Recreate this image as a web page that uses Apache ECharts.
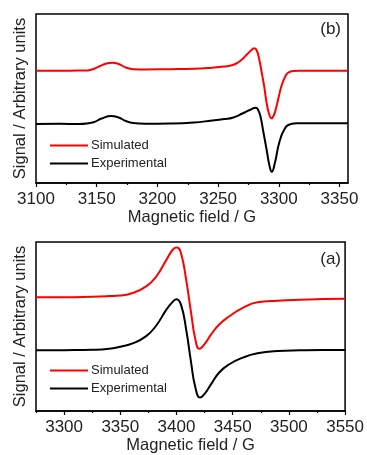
<!DOCTYPE html>
<html>
<head>
<meta charset="utf-8">
<script src="https://cdn.jsdelivr.net/npm/echarts@6/dist/echarts.min.js"></script>
<style>
html,body{margin:0;padding:0;background:#fff;}
#c{width:367px;height:455px;}
</style>
</head>
<body>
<div id="c"></div>
<script>
// Panel (b)
var fieldSimB = [3100,3120,3135,3140,3146,3152,3158,3163,3168,3174,3180,3190,3210,3230,3245,3255,3262,3267,3271,3276,3280,3282,3284,3286,3288,3290,3292,3294,3296,3298,3300,3302,3304,3306,3308,3311.6,3317,3357];
var valSimB   = [112.3,112.3,112.4,112.4,113.5,116.5,119.5,120.3,119,115.5,113.8,113.5,113.8,114.2,115.3,116.5,118,121,125,131.3,134.7,132,123,110,96.3,80,69,64.7,68,76.3,86.5,96.3,103,108,110.5,112,112.3,112.3];
var fieldExpB = [3100,3120,3135,3142,3148,3154,3162,3168,3174,3180,3190,3210,3230,3245,3255,3262,3270,3276,3281,3283,3285,3287,3290,3292.5,3294.2,3296.7,3299.5,3301.5,3303.6,3307.7,3314.5,3357];
var valExpB   = [59,59.2,59,59.5,61,64.5,67,65.5,62,60,59.3,59.5,60.5,62.5,64,65.3,69.5,73,75.3,73,66,53,33,16.3,11.3,19.7,36.3,45,51.3,58,59.7,59.7];
var ticksB = [3100,3150,3200,3250,3300,3350];
var minorTicksB = [3125,3175,3225,3275,3325];

// Panel (a)
var fieldSimA = [3275,3300,3325,3340,3350,3361,3373,3382,3391,3397,3400.3,3404,3408.6,3413,3416.8,3420.4,3424.8,3430.8,3438,3447,3459,3472,3490,3510,3530,3550];
var valSimA   = [114.3,114.4,115,115.6,116.2,118.7,125.3,135.3,152,162.7,164.5,158.7,132,98.7,72,62.5,67,77,87,95.3,103.7,109.3,111,112,112.6,113];
var fieldExpA = [3275,3300,3325,3340,3350,3361,3373,3382,3391,3397,3400,3404,3408.6,3413,3416.8,3421,3424.8,3430.8,3438,3447,3459,3472,3490,3510,3530,3550];
var valExpA   = [61,61.2,61.5,62.5,64.7,68,75.3,86,102,110.3,112.5,107,82,48.7,23.7,13.5,17,27,38.7,47,53.7,58,60.3,61,61.3,61.3];
var ticksA = [3300,3350,3400,3450,3500,3550];
var minorTicksA = [3275,3325,3375,3425,3475,3525];

var seriesNames = ['Simulated','Experimental'];
var xName = 'Magnetic field / G';
var yName = 'Signal / Arbitrary units';

function pairs(xs, ys){ return xs.map(function(x,i){ return [x, ys[i]]; }); }

var FONT = 'Liberation Sans, Arial, sans-serif';
var RED = '#ff0000', BLK = '#000000';

function mainX(gi, min, max, ticks){
  return {
    type:'value', gridIndex:gi, min:min, max:max, position:'bottom',
    name:xName, nameLocation:'middle', nameGap:26,
    nameTextStyle:{fontFamily:FONT, fontSize:16.5, color:'#222'},
    axisLine:{show:true, lineStyle:{color:'#000', width:1.5}},
    axisTick:{show:true, inside:false, length:4, lineStyle:{color:'#000', width:1.2}, customValues:ticks},
    axisLabel:{show:true, margin:8, fontFamily:FONT, fontSize:17, color:'#222', customValues:ticks,
               formatter:function(v){ return String(Math.round(v)); }},
    splitLine:{show:false}
  };
}
function minorX(gi, min, max, ticks){
  return {
    type:'value', gridIndex:gi, min:min, max:max, position:'bottom', offset:0,
    axisLine:{show:false},
    axisTick:{show:true, inside:false, length:2, lineStyle:{color:'#000', width:1.2}, customValues:ticks},
    axisLabel:{show:false},
    splitLine:{show:false}
  };
}
function yAx(gi, max){
  return {
    type:'value', gridIndex:gi, min:0, max:max,
    name:yName, nameLocation:'middle', nameGap:7, nameRotate:90,
    nameTextStyle:{fontFamily:FONT, fontSize:16.5, color:'#222'},
    axisLine:{show:false}, axisTick:{show:false}, axisLabel:{show:false}, splitLine:{show:false}
  };
}
function line(name, xi, yi, data, color){
  return {
    type:'line', name:name, xAxisIndex:xi, yAxisIndex:yi, data:data,
    showSymbol:false, symbol:'none', smooth:0.5,
    lineStyle:{color:color, width:2}, itemStyle:{color:color}, z:3, animation:false
  };
}

var chart = echarts.init(document.getElementById('c'), null, {renderer:'canvas'});
chart.setOption({
  animation:false,
  backgroundColor:'#fff',
  title:[
    {text:'(b)', right:26, top:21, padding:0, textStyle:{fontFamily:FONT, fontSize:17, fontWeight:'normal', color:'#222'}},
    {text:'(a)', right:26, top:251, padding:0, textStyle:{fontFamily:FONT, fontSize:17, fontWeight:'normal', color:'#222'}}
  ],
  grid:[
    {left:36, right:19, top:14, height:169, show:true, borderColor:'#000', borderWidth:1.5, backgroundColor:'transparent', containLabel:false},
    {left:36, right:19, top:242, height:170, show:true, borderColor:'#000', borderWidth:1.5, backgroundColor:'transparent', containLabel:false}
  ],
  legend:[
    {data:seriesNames, orient:'vertical', left:50, top:139, itemWidth:38, itemHeight:2, itemGap:5, icon:'rect',
     textStyle:{fontFamily:FONT, fontSize:13, color:'#222', padding:[0,0,0,-2]}, padding:0, selectedMode:false},
    {data:seriesNames, orient:'vertical', left:50, top:364, itemWidth:38, itemHeight:2, itemGap:5, icon:'rect',
     textStyle:{fontFamily:FONT, fontSize:13, color:'#222', padding:[0,0,0,-2]}, padding:0, selectedMode:false}
  ],
  xAxis:[
    mainX(0, 3100, 3357, ticksB),
    minorX(0, 3100, 3357, minorTicksB),
    mainX(1, 3275, 3550, ticksA),
    minorX(1, 3275, 3550, minorTicksA)
  ],
  yAxis:[ yAx(0, 169), yAx(1, 170) ],
  series:[
    line(seriesNames[0], 0, 0, pairs(fieldSimB, valSimB), RED),
    line(seriesNames[1], 0, 0, pairs(fieldExpB, valExpB), BLK),
    line(seriesNames[0], 2, 1, pairs(fieldSimA, valSimA), RED),
    line(seriesNames[1], 2, 1, pairs(fieldExpA, valExpA), BLK)
  ]
});
</script>
</body>
</html>
